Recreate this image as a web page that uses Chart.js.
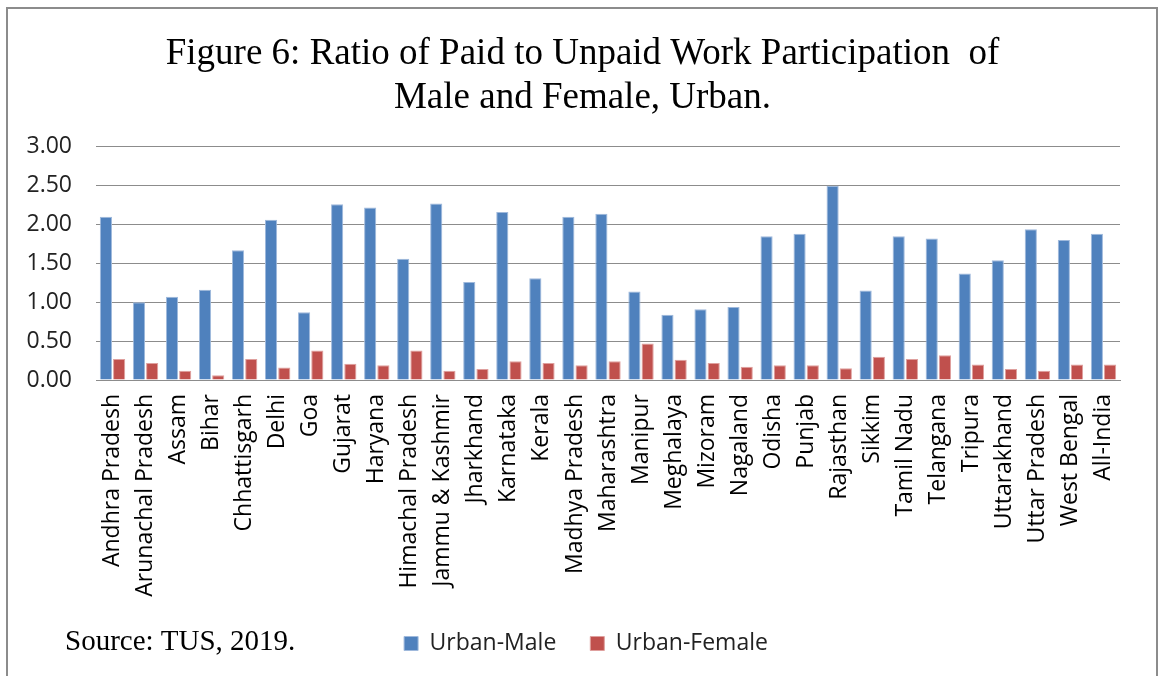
<!DOCTYPE html>
<html>
<head>
<meta charset="utf-8">
<script src="https://cdn.jsdelivr.net/npm/chart.js@4"></script>
<style>
  body { margin: 0; background: #fff; }
  #wrap { width: 1160px; height: 676px; }
</style>
</head>
<body>
<div id="wrap"><canvas id="ratiochart" width="1160" height="676"></canvas></div>
<script>
const states = ['Andhra Pradesh', 'Arunachal Pradesh', 'Assam', 'Bihar', 'Chhattisgarh', 'Delhi', 'Goa',
    'Gujarat', 'Haryana', 'Himachal Pradesh', 'Jammu & Kashmir', 'Jharkhand', 'Karnataka', 'Kerala',
    'Madhya Pradesh', 'Maharashtra', 'Manipur', 'Meghalaya', 'Mizoram', 'Nagaland', 'Odisha', 'Punjab',
    'Rajasthan', 'Sikkim', 'Tamil Nadu', 'Telangana', 'Tripura', 'Uttarakhand', 'Uttar Pradesh',
    'West Bengal', 'All-India'];
const urbanMale = [2.10, 1.00, 1.07, 1.16, 1.67, 2.06, 0.87, 2.26, 2.22, 1.56, 2.27, 1.26, 2.16, 1.31,
    2.10, 2.14, 1.14, 0.84, 0.91, 0.94, 1.85, 1.88, 2.50, 1.15, 1.85, 1.82, 1.37, 1.54, 1.94, 1.80, 1.88];
const urbanFemale = [0.27, 0.22, 0.12, 0.06, 0.27, 0.16, 0.38, 0.21, 0.19, 0.38, 0.12, 0.14, 0.24, 0.22,
    0.19, 0.24, 0.47, 0.26, 0.22, 0.17, 0.19, 0.19, 0.15, 0.30, 0.27, 0.32, 0.20, 0.14, 0.12, 0.20, 0.20];
const yTicks = [0, 0.5, 1, 1.5, 2, 2.5, 3];

const sansFont = "'Open Sans', sans-serif";
const serifFont = "'Liberation Serif', 'Times New Roman', serif";

// frame round the figure plus the source note under the axis
const framePlugin = {
    id: 'frame',
    afterLayout(chart) {
        // centre title and legend a bit further right than the default box
        chart.titleBlock.left += 18;
        chart.legend.left += 25;
    },
    afterDraw(chart) {
        const ctx = chart.ctx;
        ctx.save();
        ctx.strokeStyle = '#8c8c8c';
        ctx.lineWidth = 2;
        ctx.beginPath();
        ctx.moveTo(7, 676);
        ctx.lineTo(7, 8);
        ctx.lineTo(1157, 8);
        ctx.lineTo(1157, 676);
        ctx.stroke();

        ctx.fillStyle = '#000';
        ctx.font = '29px ' + serifFont;
        ctx.textBaseline = 'alphabetic';
        ctx.fillText('Source: TUS, 2019.', 65, 650);
        ctx.restore();
    }
};

const ctx = document.getElementById('ratiochart').getContext('2d');
const ratiochart = new Chart(ctx, {
    type: 'bar',
    data: {
        labels: states,
        datasets: [{
            label: 'Urban-Male',
            data: urbanMale,
            backgroundColor: '#4f81bd',
            borderColor: '#9fb9dc',
            borderWidth: 1,
            categoryPercentage: 0.8,
            barPercentage: 0.92
        }, {
            label: 'Urban-Female',
            data: urbanFemale,
            backgroundColor: '#c0504d',
            borderColor: '#dfa09e',
            borderWidth: 1,
            categoryPercentage: 0.8,
            barPercentage: 0.92
        }]
    },
    options: {
        responsive: false,
        animation: false,
        layout: { padding: { left: 27, right: 40, top: 32, bottom: 11 } },
        plugins: {
            title: {
                display: true,
                text: ['Figure 6: Ratio of Paid to Unpaid Work Participation  of', 'Male and Female, Urban.'],
                color: '#000',
                font: { family: serifFont, size: 37, weight: 'normal', lineHeight: 1.2 },
                padding: { top: 0, bottom: 26 }
            },
            legend: {
                position: 'bottom',
                labels: {
                    color: '#222',
                    font: { family: sansFont, size: 23 },
                    boxWidth: 14,
                    boxHeight: 14,
                    padding: 34
                }
            },
            tooltip: { enabled: false }
        },
        scales: {
            y: {
                min: 0,
                max: 3,
                afterFit(scale) { scale.width = 69; },
                afterBuildTicks(scale) { scale.ticks = yTicks.map(v => ({ value: v })); },
                ticks: {
                    padding: 24,
                    color: '#222',
                    font: { family: sansFont, size: 23 },
                    callback: v => Number(v).toFixed(2)
                },
                grid: { color: '#8c8c8c', lineWidth: 1, drawTicks: false },
                border: { display: false }
            },
            x: {
                afterFit(scale) { scale.height = 218; },
                ticks: {
                    minRotation: 90,
                    maxRotation: 90,
                    autoSkip: false,
                    padding: 14,
                    color: '#000',
                    font: { family: sansFont, size: 23 }
                },
                grid: { display: false, drawTicks: false },
                border: { display: true, color: '#8c8c8c', width: 1 }
            }
        }
    },
    plugins: [framePlugin]
});
</script>
</body>
</html>
